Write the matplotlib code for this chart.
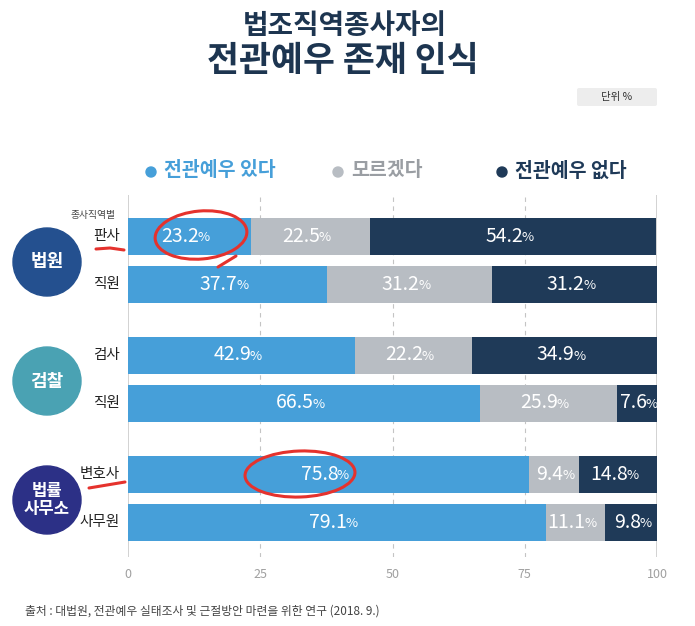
import numpy as np
import matplotlib.pyplot as plt
from matplotlib.patches import Circle, Ellipse, FancyBboxPatch

plt.rcParams['font.family'] = ['Noto Sans CJK KR', 'DejaVu Sans']

# data
groups = ['법원', '검찰', '법률\n사무소']
group_colors = ['#24508F', '#4AA2B3', '#2C3086']
roles = ['판사', '직원', '검사', '직원', '변호사', '사무원']
role_group = [0, 0, 1, 1, 2, 2]
yes_vals = [23.2, 37.7, 42.9, 66.5, 75.8, 79.1]
dunno_vals = [22.5, 31.2, 22.2, 25.9, 9.4, 11.1]
no_vals = [54.2, 31.2, 34.9, 7.6, 14.8, 9.8]
series_names = ['전관예우 있다', '모르겠다', '전관예우 없다']
series_colors = ['#469FD9', '#B8BDC3', '#1F3A58']
legend_text_colors = ['#469FD9', '#9A9EA3', '#1F3A58']
ticks = [0, 25, 50, 75, 100]

W, H = 695, 626
fig = plt.figure(figsize=(W / 100, H / 100), dpi=100)
fig.patch.set_facecolor('white')

# overlay in pixel units for titles, circles, legend
bg = fig.add_axes([0, 0, 1, 1])
bg.set_xlim(0, W)
bg.set_ylim(H, 0)
bg.axis('off')

# bar axes (y measured in pixels so rows line up with the overlay)
top, bottom, left, right = 195, 557, 128, 657
ax = fig.add_axes([left / W, 1 - bottom / H, (right - left) / W, (bottom - top) / H])
ax.set_xlim(0, 100)
ax.set_ylim(bottom, top)
ax.patch.set_alpha(0)

step, gap, first = 48, 23, 236
ypos = np.array([first + i * step + role_group[i] * gap for i in range(len(roles))])
bar_h = 37

for x in [25, 50, 75]:
    ax.axvline(x, color='#C4C4C4', lw=0.8, ls=(0, (4, 4)), zorder=0)
for x in [0, 100]:
    ax.axvline(x, color='#CFCFCF', lw=1.3, zorder=0)

starts = np.zeros(len(roles))
for vals, col in zip([yes_vals, dunno_vals, no_vals], series_colors):
    vals = np.array(vals)
    ax.barh(ypos, vals, left=starts, height=bar_h, color=col, zorder=2)
    for y, s, v in zip(ypos, starts, vals):
        cx = s + v / 2
        ax.annotate(f'{v:.1f}', (cx, y), xytext=(7, 0), textcoords='offset points',
                    ha='right', va='center', color='white', fontsize=14,
                    fontweight='medium', zorder=3)
        ax.annotate('%', (cx, y), xytext=(6, -1), textcoords='offset points',
                    ha='left', va='center', color='white', fontsize=9.5, zorder=3)
    starts = starts + vals

ax.set_yticks([])
ax.set_xticks(ticks)
ax.set_xticklabels([str(t) for t in ticks], color='#A0A0A0', fontsize=9)
ax.tick_params(axis='x', length=0, pad=8)
for sp in ax.spines.values():
    sp.set_visible(False)

# role labels
for y, r in zip(ypos, roles):
    bg.text(120, y, r, ha='right', va='center', fontsize=10.5, color='#222222')
bg.text(93, 215, '종사직역별', ha='center', va='center', fontsize=7, color='#444444')

# group circles
for g, (name, col) in enumerate(zip(groups, group_colors)):
    yy = ypos[[i for i in range(len(roles)) if role_group[i] == g]].mean()
    bg.add_patch(Circle((47, yy + 2), 34, color=col))
    bg.text(47, yy + 2, name, ha='center', va='center', color='white',
            fontsize=13 if '\n' not in name else 12, fontweight='bold',
            linespacing=1.0)

# titles
bg.text(345, 26, '법조직역종사자의', ha='center', va='center', fontsize=20,
        fontweight='bold', color='#1D3550')
bg.text(343, 61, '전관예우 존재 인식', ha='center', va='center', fontsize=25,
        fontweight='bold', color='#1D3550')

# unit box
bg.add_patch(FancyBboxPatch((577, 88), 80, 18, boxstyle='round,pad=0,rounding_size=2',
                            fc='#EDEDED', ec='none'))
bg.text(617, 97, '단위 %', ha='center', va='center', fontsize=7.5, color='#333333')

# legend
leg_x = [151, 338, 502]
for lx, name, col, tcol in zip(leg_x, series_names, series_colors, legend_text_colors):
    bg.add_patch(Circle((lx, 172), 5, color=col))
    bg.text(lx + 13, 171, name, ha='left', va='center', fontsize=14,
            fontweight='bold', color=tcol)

# source
bg.text(25, 611, '출처 : 대법원, 전관예우 실태조사 및 근절방안 마련을 위한 연구 (2018. 9.)',
        ha='left', va='center', fontsize=8.5, color='#444444')

# red hand-drawn marks
red = '#E5322D'
ax.add_patch(Ellipse((201, 235), 92, 48, angle=-5, fill=False, ec=red, lw=2.2,
                     transform=bg.transData, clip_on=False, zorder=5))
ax.plot([236, 218], [256, 267], color=red, lw=2.2, transform=bg.transData,
        clip_on=False, zorder=5, solid_capstyle='round')
ax.plot([96, 110, 124], [249, 248, 250], color=red, lw=2.2, transform=bg.transData,
        clip_on=False, zorder=5, solid_capstyle='round')
ax.add_patch(Ellipse((300, 474), 110, 46, angle=-2, fill=False, ec=red, lw=2.2,
                     transform=bg.transData, clip_on=False, zorder=5))
ax.plot([89, 125], [488, 482], color=red, lw=2.2, transform=bg.transData,
        clip_on=False, zorder=5, solid_capstyle='round')

fig.savefig('out.png', dpi=100)
